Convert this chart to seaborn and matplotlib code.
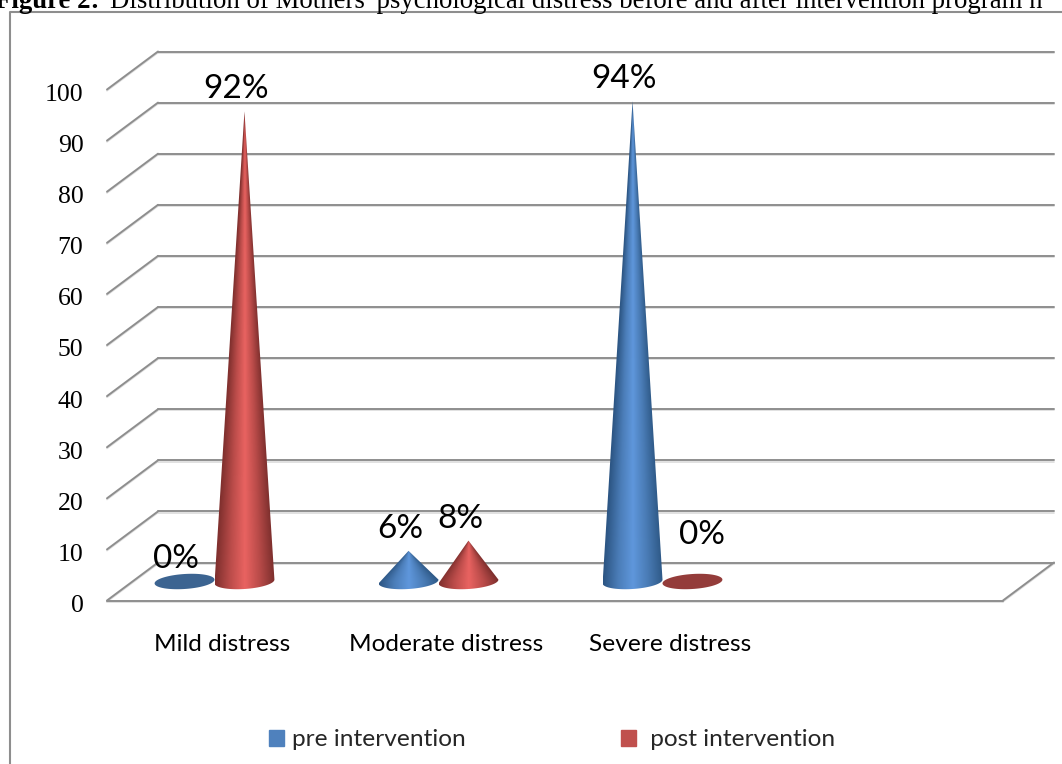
import numpy as np
import pandas as pd
import matplotlib
matplotlib.use("Agg")
import matplotlib.pyplot as plt
from matplotlib.colors import LinearSegmentedColormap
from matplotlib.lines import Line2D
from matplotlib.patches import Patch, Polygon
from matplotlib.transforms import ScaledTranslation
import seaborn as sns

categories = ["Mild distress", "Moderate distress", "Severe distress"]
series_names = ["pre intervention", " post intervention"]
pre_values = [0, 6, 94]
post_values = [92, 8, 0]
y_ticks = list(range(0, 101, 10))

df = pd.DataFrame({
    "categoria": categories * 2,
    "serie": [series_names[0]] * 3 + [series_names[1]] * 3,
    "valor": pre_values + post_values,
})

W, H = 1062, 764
sns.set_theme(style="white")
plt.rcParams["font.family"] = ["Lato", "DejaVu Sans"]

fig = plt.figure(figsize=(W / 100, H / 100), dpi=100)
ax = fig.add_axes([107 / W, (H - 600.5) / H, 896 / W, 511 / H])

# barras invisibles: solo dan la posicion y la altura de cada cono
sns.barplot(data=df, x="categoria", y="valor", hue="serie", order=categories + [""],
            hue_order=series_names, width=0.535, legend=False, ax=ax)
ax.set_xlim(-0.5, 3.5)
ax.set_ylim(0, 100)
ax.set_xlabel("")
ax.set_ylabel("")
sns.despine(ax=ax, left=True, bottom=True)

# profundidad del suelo, en unidades de datos
depth_x = 51 / 224
depth_y = 38 / 5.11
lift_x = -4.5 / 224
lift_y = 19 / 5.11
px_y = 1 / 5.11

grid_dark = "#8e8e8e"
grid_light = "#dcdcdc"


def wall_line(xs, ys):
    ys_shadow = [y - 1.2 * px_y for y in ys]
    ax.plot(xs, ys_shadow, color=grid_light, lw=1.2, clip_on=False, zorder=1, solid_capstyle="round")
    ax.plot(xs, ys, color=grid_dark, lw=1.4, clip_on=False, zorder=1.1, solid_capstyle="round")


for v in y_ticks:
    wall_line([-0.5, -0.5 + depth_x], [v, v + depth_y])
    wall_line([-0.5 + depth_x, 3.5 + depth_x], [v + depth_y, v + depth_y])
wall_line([-0.5, 3.5], [0, 0])
wall_line([3.5, 3.5 + depth_x], [0, depth_y])

blue_map = LinearSegmentedColormap.from_list("azul", ["#2c5583", "#4b7db8", "#5f97dc", "#4a7cb6", "#2f5a88"])
red_map = LinearSegmentedColormap.from_list("rojo", ["#80302e", "#bb4c4a", "#e96361", "#b94b49", "#7d2f2d"])
flat_colors = ["#3c6491", "#943c3a"]
cone_maps = [blue_map, red_map]

tilt = 0.25
ell_h = 7.5 * px_y


def draw_cone(cx, half, value, cmap, flat, z):
    if value == 0:
        tt = np.linspace(0, 2 * np.pi, 80)
        ex = cx + half * np.cos(tt)
        ey = lift_y + ell_h * (np.sin(tt) + tilt * np.cos(tt))
        ax.add_patch(Polygon(np.c_[ex, ey], closed=True, fc=flat, ec="none", clip_on=False, zorder=z))
        return
    t = np.linspace(np.pi, 2 * np.pi, 40)
    base_x = cx + half * np.cos(t)
    base_y = lift_y + ell_h * (np.sin(t) + tilt * np.cos(t))
    tip_y = lift_y + value
    outline = np.c_[np.r_[base_x, cx], np.r_[base_y, tip_y]]
    yy, xx = np.mgrid[tip_y:lift_y - ell_h * 1.3:300j, -1:1:120j]
    u = xx / np.clip((tip_y - yy) / value, 0.004, 1)
    img = ax.imshow((np.clip(u, -1, 1) + 1) / 2, cmap=cmap, vmin=0, vmax=1, aspect="auto",
                    extent=[cx - half, cx + half, lift_y - ell_h * 1.3, tip_y], origin="upper",
                    interpolation="bilinear", zorder=z)
    img.set_clip_path(Polygon(outline, closed=True, transform=ax.transData))


labels_txt = []
for s, cont in enumerate(ax.containers):
    for b in cont:
        if not np.isfinite(b.get_height()):
            continue
        b.set_visible(False)
        cx = b.get_x() + b.get_width() / 2 + lift_x
        h = b.get_height()
        draw_cone(cx, b.get_width() / 2, h, cone_maps[s], flat_colors[s], 3 + s * 0.1)
        labels_txt.append((cx, h, s))

ax.set_xlim(-0.5, 3.5)
ax.set_ylim(0, 100)

# etiquetas de datos: desplazadas a mano como en el original
for cx, h, s in labels_txt:
    dx, dy = -8.5, 22
    if h == 0 and s == 1:
        dx, dy = 10, 47
    ax.annotate(f"{h:.0f}%", (cx, h + lift_y), xytext=(dx * 0.72, dy * 0.72), textcoords="offset points",
                ha="center", va="center", fontsize=24, color="black", zorder=6, annotation_clip=False)

# ejes
ax.set_yticks(y_ticks)
ax.set_yticklabels([str(v) for v in y_ticks], family=["Liberation Serif"], fontsize=18.5, color="black")
ax.set_xticks([0, 1, 2, 3])
ax.set_xticklabels(categories + [""], fontsize=17.6, color="black")
ax.tick_params(axis="y", length=0, pad=17)
ax.tick_params(axis="x", length=0, pad=24)
shift_x = ScaledTranslation(3.5 / 100, 0, fig.dpi_scale_trans)
shift_y = ScaledTranslation(0, -3 / 100, fig.dpi_scale_trans)
for lab in ax.get_xticklabels():
    lab.set_transform(lab.get_transform() + shift_x)
for lab in ax.get_yticklabels():
    lab.set_transform(lab.get_transform() + shift_y)

# marco del grafico
fig.add_artist(Line2D([9.5 / W, 9.5 / W, 1], [0, 1 - 11.5 / H, 1 - 11.5 / H], color=grid_dark, lw=1.5))

# leyenda
handles = [Patch(color="#4f81bd"), Patch(color="#c0504d")]
fig.legend(handles, series_names, loc="center", bbox_to_anchor=(552 / W, 1 - 740 / H), ncol=2, frameon=False,
           fontsize=17.6, handlelength=0.62, handleheight=0.62, handletextpad=0.33, columnspacing=6.33)

# titulo, cortado arriba como en el original
fig.text(-5 / W, 1 - 8 / H, "Figure 2:", family="Liberation Serif", weight="bold", fontsize=19.3, color="black", va="baseline")
fig.text(110 / W, 1 - 8 / H, "Distribution of Mothers' psychological distress before and after intervention program n",
         family="Liberation Serif", fontsize=19.3, color="black", va="baseline")

fig.savefig("out.png", dpi=100)
plt.close()
